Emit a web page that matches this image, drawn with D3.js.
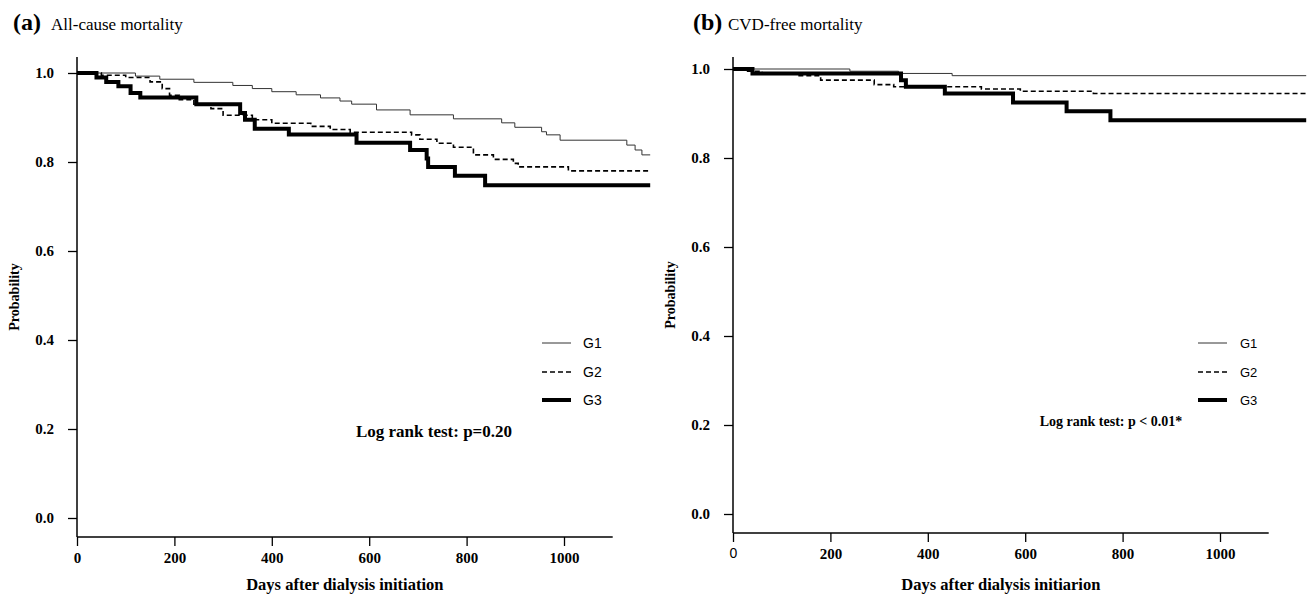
<!DOCTYPE html>
<meta charset="utf-8" />
<title>Kaplan-Meier curves - D3.js</title>
<style>
  body { margin: 0; background: #fff; }
  svg { display: block; }
  .serif { font-family: "Liberation Serif", "Times New Roman", serif; }
  .sans { font-family: "Liberation Sans", Arial, sans-serif; }
  .axis path { display: none; }
  .axis line { stroke: #000; stroke-width: 1.3px; }
  .axis text { font-family: "Liberation Serif", serif; font-weight: bold; font-size: 15px; fill: #000; }
</style>
<body>
<svg width="1311" height="601"></svg>
<script src="https://d3js.org/d3.v7.min.js"></script>
<script>
const xTicks = [0, 200, 400, 600, 800, 1000];
const yTicks = [0, 0.2, 0.4, 0.6, 0.8, 1.0];
const groupNames = ["G1", "G2", "G3"];

// (a) all-cause mortality, [day, survival]
const allG1 = [[0,1],[120,0.993],[170,0.986],[240,0.979],[320,0.972],[360,0.965],[400,0.958],[450,0.951],[500,0.944],[540,0.937],[564,0.930],[615,0.917],[684,0.906],[773,0.897],[872,0.888],[899,0.878],[954,0.868],[964,0.861],[992,0.849],[1129,0.838],[1146,0.827],[1160,0.816],[1177,0.816]];
const allG2 = [[0,1],[50,0.995],[100,0.99],[150,0.98],[175,0.965],[190,0.95],[210,0.94],[240,0.93],[275,0.92],[300,0.905],[360,0.895],[400,0.887],[480,0.88],[520,0.873],[561,0.867],[687,0.861],[704,0.851],[739,0.842],[773,0.833],[814,0.816],[855,0.806],[896,0.797],[906,0.789],[1009,0.78],[1177,0.78]];
const allG3 = [[0,1],[40,0.99],[60,0.98],[85,0.97],[110,0.955],[130,0.945],[245,0.93],[335,0.91],[345,0.895],[365,0.875],[435,0.862],[574,0.843],[684,0.827],[718,0.808],[721,0.789],[776,0.769],[838,0.748],[1177,0.748]];

// (b) CVD-free mortality
const cvdG1 = [[0,1],[240,0.995],[340,0.99],[450,0.985],[1177,0.985]];
const cvdG2 = [[0,1],[30,0.995],[60,0.99],[130,0.985],[180,0.975],[290,0.965],[330,0.96],[510,0.955],[590,0.95],[740,0.945],[1177,0.945]];
const cvdG3 = [[0,1],[40,0.99],[345,0.975],[355,0.96],[435,0.945],[575,0.925],[685,0.905],[775,0.885],[1177,0.885]];

const svg = d3.select("svg");

const lineStyle = [
  { w: 1, dash: null, color: "#333" },
  { w: 1.6, dash: "5,3", color: "#000" },
  { w: 4, dash: null, color: "#000" }
];

const panels = [
  {
    tag: "(a)", title: "All-cause mortality", tagX: 13, titleX: 51,
    series: [allG1, allG2, allG3],
    left: 77, y0: 518, y1: 73, axisY: 537, top: 57,
    xLabel: "Days after dialysis initiation", zeroPlain: false,
    logrank: "Log rank test: p=0.20", lrX: 434, lrY: 437, lrSize: 17,
    legX: 542, legText: 583, legSize: 14
  },
  {
    tag: "(b)", title: "CVD-free mortality", tagX: 693, titleX: 728,
    series: [cvdG1, cvdG2, cvdG3],
    left: 733, y0: 514, y1: 69, axisY: 533, top: 57,
    xLabel: "Days after dialysis initiarion", zeroPlain: true,
    logrank: "Log rank test: p < 0.01*", lrX: 1111, lrY: 426, lrSize: 14,
    legX: 1198, legText: 1240, legSize: 13
  }
];

panels.forEach(p => {
  const g = svg.append("g");
  const x = d3.scaleLinear().domain([0, 1000]).range([p.left, p.left + 487]);
  const y = d3.scaleLinear().domain([0, 1]).range([p.y0, p.y1]);

  // titles
  g.append("text").attr("class", "serif")
    .attr("x", p.tagX).attr("y", 30)
    .attr("font-size", 24).attr("font-weight", "bold").text(p.tag);
  g.append("text").attr("class", "serif")
    .attr("x", p.titleX).attr("y", 30)
    .attr("font-size", 17).text(p.title);

  // axis lines
  g.append("line")
    .attr("x1", p.left).attr("x2", p.left)
    .attr("y1", p.top).attr("y2", p.axisY)
    .attr("stroke", "#000").attr("stroke-width", 1.5);
  g.append("line")
    .attr("x1", p.left).attr("x2", x(1100))
    .attr("y1", p.axisY).attr("y2", p.axisY)
    .attr("stroke", "#000").attr("stroke-width", 1.5);

  const xAxis = g.append("g").attr("class", "axis")
    .attr("transform", `translate(0,${p.axisY})`)
    .call(d3.axisBottom(x).tickValues(xTicks).tickSize(9).tickPadding(6).tickFormat(d3.format("d")));
  if (p.zeroPlain) {
    xAxis.selectAll("text").filter(d => d === 0)
      .style("font-family", "'Liberation Sans', Arial, sans-serif")
      .style("font-weight", "normal").style("font-size", "14px");
  }

  g.append("g").attr("class", "axis")
    .attr("transform", `translate(${p.left},0)`)
    .call(d3.axisLeft(y).tickValues(yTicks).tickSize(9).tickPadding(14).tickFormat(d3.format(".1f")));

  // axis titles
  g.append("text").attr("class", "serif")
    .attr("x", (p.left + x(1100)) / 2).attr("y", 590)
    .attr("text-anchor", "middle").attr("font-size", 16.5).attr("font-weight", "bold")
    .text(p.xLabel);
  g.append("text").attr("class", "serif")
    .attr("transform", `translate(${p.left - 58},${(p.top + p.axisY) / 2}) rotate(-90)`)
    .attr("text-anchor", "middle").attr("font-size", 14).attr("font-weight", "bold")
    .text("Probability");

  // curves
  const line = d3.line().x(d => x(d[0])).y(d => y(d[1])).curve(d3.curveStepAfter);
  p.series.forEach((s, i) => {
    const st = lineStyle[i];
    g.append("path").datum(s)
      .attr("d", line)
      .attr("fill", "none")
      .attr("stroke", st.color)
      .attr("stroke-width", st.w)
      .attr("stroke-dasharray", st.dash);
  });

  // legend
  const legY = [343, 372, 400];
  groupNames.forEach((name, i) => {
    const st = lineStyle[i];
    g.append("line")
      .attr("x1", p.legX).attr("x2", p.legX + 29)
      .attr("y1", legY[i]).attr("y2", legY[i])
      .attr("stroke", st.color).attr("stroke-width", st.w)
      .attr("stroke-dasharray", st.dash);
    g.append("text").attr("class", "sans")
      .attr("x", p.legText).attr("y", legY[i]).attr("dy", "0.35em")
      .attr("font-size", p.legSize).text(name);
  });

  g.append("text").attr("class", "serif")
    .attr("x", p.lrX).attr("y", p.lrY)
    .attr("text-anchor", "middle").attr("font-size", p.lrSize).attr("font-weight", "bold")
    .text(p.logrank);
});
</script>
</body>
